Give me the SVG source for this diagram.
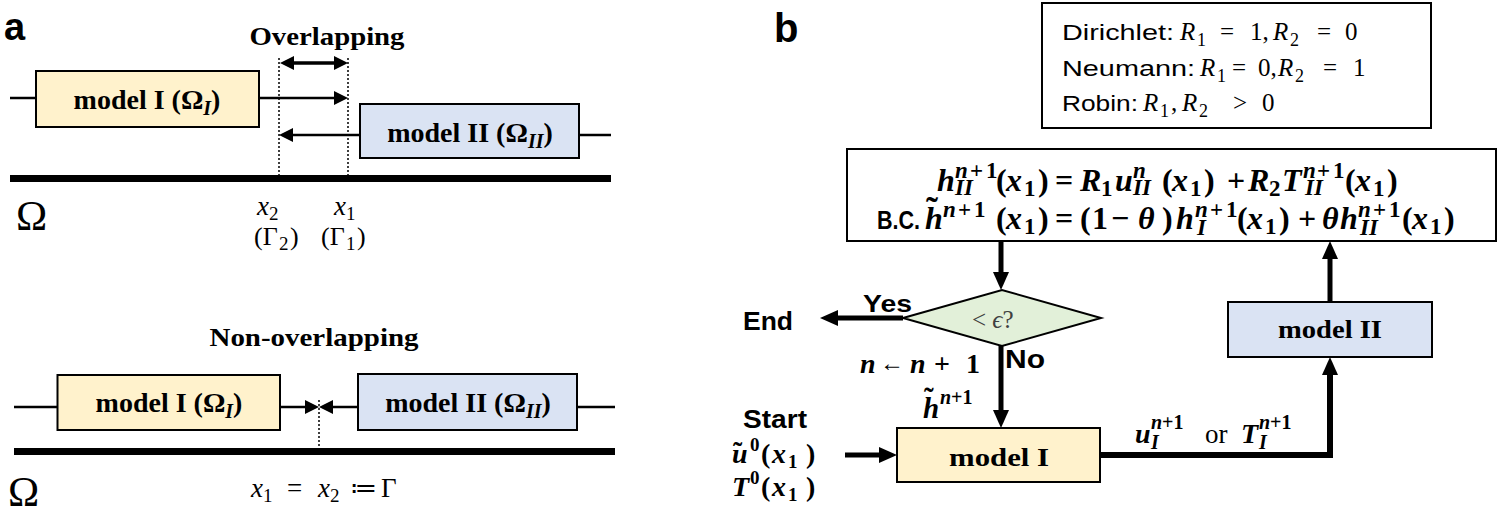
<svg xmlns="http://www.w3.org/2000/svg" width="1500" height="512" viewBox="0 0 1500 512">
<style>
.sb{font-family:"Liberation Sans",Arial,sans-serif;font-weight:bold;fill:#000}
.s{font-family:"Liberation Sans",Arial,sans-serif;fill:#000}
.rb{font-family:"Liberation Serif","Times New Roman",serif;font-weight:bold;fill:#000}
.r{font-family:"Liberation Serif","Times New Roman",serif;fill:#000}
.i{font-style:italic}
.box1{fill:#FFF2CC;stroke:#000;stroke-width:2}
.box2{fill:#DAE3F3;stroke:#000;stroke-width:2}
.dia{fill:#E2F0D9;stroke:#000;stroke-width:2}
.plain{fill:#fff;stroke:#000;stroke-width:2}
.thin{stroke:#000;stroke-width:2.5;fill:none}
.dot{stroke:#000;stroke-width:1.5;stroke-dasharray:2 2;fill:none}
.axis{stroke:#000;stroke-width:7}
.thick{stroke:#000;stroke-width:5;fill:none}
</style>
<defs>
<marker id="ah" markerUnits="userSpaceOnUse" markerWidth="14" markerHeight="14" refX="4" refY="7" orient="auto-start-reverse">
<path d="M0,0 L14,7 L0,14 z" fill="#000"/>
</marker>
<marker id="ahb" markerUnits="userSpaceOnUse" markerWidth="18" markerHeight="16" refX="6" refY="8" orient="auto">
<path d="M0,0 L18,8 L0,16 z" fill="#000"/>
</marker>
</defs>

<!-- Panel a -->
<text class="sb" x="4" y="40" font-size="38">a</text>
<text class="rb" x="327" y="45" font-size="26" text-anchor="middle" textLength="155" lengthAdjust="spacingAndGlyphs">Overlapping</text>

<g id="connectors-a">
<line class="thin" x1="10" y1="98" x2="36" y2="98"/>
<line class="thin" x1="259" y1="98" x2="338" y2="98" marker-end="url(#ah)"/>
<line class="thin" x1="360" y1="135" x2="289" y2="135" marker-end="url(#ah)"/>
<line class="thin" x1="579" y1="135" x2="611" y2="135"/>
<line stroke="#000" stroke-width="3.5" x1="290" y1="63" x2="338" y2="63" marker-start="url(#ah)" marker-end="url(#ah)"/>
<line class="dot" x1="279" y1="58" x2="279" y2="175"/>
<line class="dot" x1="348" y1="58" x2="348" y2="175"/>
<line class="axis" x1="10" y1="178.5" x2="611" y2="178.5"/>
<line class="thin" x1="14" y1="407" x2="57.5" y2="407"/>
<line class="thin" x1="280" y1="407" x2="309" y2="407" marker-end="url(#ah)"/>
<line class="thin" x1="358" y1="407" x2="329" y2="407" marker-end="url(#ah)"/>
<line class="thin" x1="577" y1="407" x2="615" y2="407"/>
<line class="dot" x1="319" y1="400" x2="319" y2="448"/>
<line class="axis" x1="14" y1="451.5" x2="615" y2="451.5"/>
</g>

<g id="a-model1-top">
<rect class="box1" x="36" y="71" width="223" height="56"/>
<text class="rb" x="147" y="109" font-size="28" text-anchor="middle">model I (Ω<tspan class="i" font-size="20" dy="6">I</tspan><tspan dy="-6">)</tspan></text>
</g>
<g id="a-model2-top">
<rect class="box2" x="360" y="104" width="219" height="54"/>
<text class="rb" x="470" y="142" font-size="28" text-anchor="middle">model II (Ω<tspan class="i" font-size="20" dy="6">II</tspan><tspan dy="-6">)</tspan></text>
</g>

<text class="r" x="16" y="230" font-size="42">Ω</text>
<text class="r" font-size="27"><tspan class="i" x="257" y="215">x</tspan><tspan x="269" y="220" font-size="19">2</tspan><tspan class="i" x="334" y="215">x</tspan><tspan x="346" y="220" font-size="19">1</tspan></text>
<text class="r" font-size="26"><tspan x="254" y="245">(Γ</tspan><tspan x="279" y="250" font-size="19">2</tspan><tspan x="290" y="245">)</tspan><tspan x="321" y="245">(Γ</tspan><tspan x="346" y="250" font-size="19">1</tspan><tspan x="357" y="245">)</tspan></text>

<text class="rb" x="314" y="346" font-size="25" text-anchor="middle" textLength="209" lengthAdjust="spacingAndGlyphs">Non-overlapping</text>
<g id="a-model1-bottom">
<rect class="box1" x="57.5" y="375" width="222.5" height="55"/>
<text class="rb" x="169" y="412" font-size="28" text-anchor="middle">model I (Ω<tspan class="i" font-size="20" dy="6">I</tspan><tspan dy="-6">)</tspan></text>
</g>
<g id="a-model2-bottom">
<rect class="box2" x="358" y="374" width="219" height="56"/>
<text class="rb" x="468" y="412" font-size="28" text-anchor="middle">model II (Ω<tspan class="i" font-size="20" dy="6">II</tspan><tspan dy="-6">)</tspan></text>
</g>
<text class="r" font-size="27"><tspan class="i" x="251" y="497">x</tspan><tspan x="263" y="502" font-size="19">1</tspan><tspan x="287" y="497">=</tspan><tspan class="i" x="318" y="497">x</tspan><tspan x="330" y="502" font-size="19">2</tspan><tspan x="350" y="497">≔</tspan><tspan x="381" y="497">Γ</tspan></text>
<text class="r" x="8" y="506" font-size="42">Ω</text>

<!-- Panel b -->
<text class="sb" x="774" y="42" font-size="40">b</text>

<g id="bc-types">
<rect class="plain" x="1042" y="3" width="389" height="125"/>
<text class="s" x="1062" y="40" font-size="22" textLength="112" lengthAdjust="spacingAndGlyphs">Dirichlet:</text>
<text class="r" font-size="25"><tspan class="i" x="1180" y="40">R</tspan><tspan x="1197" y="46" font-size="18">1</tspan><tspan x="1220" y="40">=</tspan><tspan x="1250" y="40">1,</tspan><tspan class="i" x="1273" y="40">R</tspan><tspan x="1290" y="46" font-size="18">2</tspan><tspan x="1317" y="40">=</tspan><tspan x="1345" y="40">0</tspan></text>
<text class="s" x="1062" y="76" font-size="22" textLength="133" lengthAdjust="spacingAndGlyphs">Neumann:</text>
<text class="r" font-size="25"><tspan class="i" x="1200" y="76">R</tspan><tspan x="1217" y="82" font-size="18">1</tspan><tspan x="1232" y="76">=</tspan><tspan x="1258" y="76">0,</tspan><tspan class="i" x="1278" y="76">R</tspan><tspan x="1295" y="82" font-size="18">2</tspan><tspan x="1323" y="76">=</tspan><tspan x="1353" y="76">1</tspan></text>
<text class="s" x="1062" y="111" font-size="22" textLength="76" lengthAdjust="spacingAndGlyphs">Robin:</text>
<text class="r" font-size="25"><tspan class="i" x="1143" y="111">R</tspan><tspan x="1160" y="117" font-size="18">1</tspan><tspan x="1171" y="111">,</tspan><tspan class="i" x="1182" y="111">R</tspan><tspan x="1199" y="117" font-size="18">2</tspan><tspan x="1233" y="111">&gt;</tspan><tspan x="1262" y="111">0</tspan></text>
</g>

<g id="bc-update">
<rect class="plain" x="847" y="149" width="649" height="92"/>
<text class="rb" font-size="32"><tspan class="i" x="937" y="191">h</tspan><tspan class="i" x="955" y="178" font-size="23">n</tspan><tspan x="970" y="178" font-size="23">+</tspan><tspan x="986" y="178" font-size="23">1</tspan><tspan class="i" x="955" y="195" font-size="23">II</tspan><tspan x="996" y="191">(</tspan><tspan class="i" x="1006" y="191">x</tspan><tspan x="1024" y="196" font-size="23">1</tspan><tspan x="1038" y="191">)</tspan><tspan x="1055" y="191">=</tspan><tspan class="i" x="1080" y="191">R</tspan><tspan x="1101" y="196" font-size="23">1</tspan><tspan class="i" x="1115" y="191">u</tspan><tspan class="i" x="1133" y="178" font-size="23">n</tspan><tspan class="i" x="1133" y="195" font-size="23">II</tspan><tspan x="1162" y="191">(</tspan><tspan class="i" x="1172" y="191">x</tspan><tspan x="1190" y="196" font-size="23">1</tspan><tspan x="1204" y="191">)</tspan><tspan x="1227" y="191">+</tspan><tspan class="i" x="1248" y="191">R</tspan><tspan x="1269" y="196" font-size="23">2</tspan><tspan class="i" x="1282" y="191">T</tspan><tspan class="i" x="1303" y="178" font-size="23">n</tspan><tspan x="1317" y="178" font-size="23">+</tspan><tspan x="1333" y="178" font-size="23">1</tspan><tspan class="i" x="1305" y="195" font-size="23">II</tspan><tspan x="1345" y="191">(</tspan><tspan class="i" x="1355" y="191">x</tspan><tspan x="1373" y="196" font-size="23">1</tspan><tspan x="1387" y="191">)</tspan></text>
<text class="sb" x="877" y="229" font-size="25" textLength="43" lengthAdjust="spacingAndGlyphs">B.C.</text>
<text class="rb" font-size="32"><tspan class="i" x="925" y="229">h</tspan><tspan x="926" y="222" font-size="36">˜</tspan><tspan class="i" x="943" y="217" font-size="23">n</tspan><tspan x="958" y="217" font-size="23">+</tspan><tspan x="974" y="217" font-size="23">1</tspan><tspan x="996" y="229">(</tspan><tspan class="i" x="1006" y="229">x</tspan><tspan x="1024" y="234" font-size="23">1</tspan><tspan x="1038" y="229">)</tspan><tspan x="1055" y="229">=</tspan><tspan x="1080" y="229">(</tspan><tspan x="1092" y="229">1</tspan><tspan x="1111" y="229">−</tspan><tspan class="i" x="1138" y="229">θ</tspan><tspan x="1162" y="229">)</tspan><tspan class="i" x="1176" y="229">h</tspan><tspan class="i" x="1195" y="217" font-size="23">n</tspan><tspan x="1210" y="217" font-size="23">+</tspan><tspan x="1226" y="217" font-size="23">1</tspan><tspan class="i" x="1197" y="235" font-size="23">I</tspan><tspan x="1237" y="229">(</tspan><tspan class="i" x="1247" y="229">x</tspan><tspan x="1265" y="234" font-size="23">1</tspan><tspan x="1279" y="229">)</tspan><tspan x="1298" y="229">+</tspan><tspan class="i" x="1322" y="229">θ</tspan><tspan class="i" x="1340" y="229">h</tspan><tspan class="i" x="1358" y="217" font-size="23">n</tspan><tspan x="1373" y="217" font-size="23">+</tspan><tspan x="1389" y="217" font-size="23">1</tspan><tspan class="i" x="1360" y="235" font-size="23">II</tspan><tspan x="1402" y="229">(</tspan><tspan class="i" x="1412" y="229">x</tspan><tspan x="1430" y="234" font-size="23">1</tspan><tspan x="1444" y="229">)</tspan></text>
</g>

<g id="connectors-b">
<line class="thick" x1="1001" y1="241" x2="1001" y2="278" marker-end="url(#ahb)"/>
<line class="thick" x1="903" y1="318" x2="832" y2="318" marker-end="url(#ahb)"/>
<line class="thick" x1="1001" y1="346" x2="1001" y2="416" marker-end="url(#ahb)"/>
<line class="thick" x1="845" y1="455" x2="885" y2="455" marker-end="url(#ahb)"/>
<path d="M1100,455 H1330 V369" stroke="#000" stroke-width="6" fill="none" marker-end="url(#ahb)"/>
<line class="thick" x1="1330" y1="302" x2="1330" y2="253" marker-end="url(#ahb)"/>
</g>

<g id="check">
<polygon class="dia" points="903,318 1002,290 1101,318 1002,346"/>
<text class="r" x="972" y="328" font-size="25" style="fill:#404040">&lt; <tspan class="i">ϵ</tspan>?</text>
</g>
<text class="sb" x="863" y="312" font-size="24" textLength="49" lengthAdjust="spacingAndGlyphs">Yes</text>
<text class="sb" x="743" y="330" font-size="25" textLength="50" lengthAdjust="spacingAndGlyphs">End</text>
<text class="sb" x="1005" y="368" font-size="25" textLength="40" lengthAdjust="spacingAndGlyphs">No</text>
<text class="rb" font-size="28"><tspan class="i" x="860" y="373">n</tspan><tspan x="880" y="371" font-size="24">←</tspan><tspan class="i" x="910" y="373">n</tspan><tspan x="934" y="373">+</tspan><tspan x="966" y="373">1</tspan></text>
<text class="rb" font-size="29"><tspan class="i" x="923" y="418">h</tspan><tspan x="924" y="408">˜</tspan><tspan class="i" x="940" y="404" font-size="20">n</tspan><tspan x="951" y="404" font-size="20">+1</tspan></text>

<text class="sb" x="743" y="428" font-size="25" textLength="64" lengthAdjust="spacingAndGlyphs">Start</text>
<text class="rb" font-size="28"><tspan class="i" x="732" y="463">u</tspan><tspan x="733" y="461">˜</tspan><tspan x="750" y="451" font-size="19">0</tspan><tspan x="761" y="463">(</tspan><tspan class="i" x="772" y="463">x</tspan><tspan x="788" y="468" font-size="19">1</tspan><tspan x="806" y="463">)</tspan></text>
<text class="rb" font-size="28"><tspan class="i" x="732" y="496">T</tspan><tspan x="750" y="484" font-size="19">0</tspan><tspan x="761" y="496">(</tspan><tspan class="i" x="772" y="496">x</tspan><tspan x="788" y="501" font-size="19">1</tspan><tspan x="806" y="496">)</tspan></text>

<g id="model1">
<rect class="box1" x="897" y="428" width="203" height="54"/>
<text class="rb" x="999" y="466" font-size="26" text-anchor="middle" textLength="100" lengthAdjust="spacingAndGlyphs">model I</text>
</g>
<g id="model2">
<rect class="box2" x="1228" y="302" width="204" height="55"/>
<text class="rb" x="1330" y="338" font-size="26" text-anchor="middle" textLength="104" lengthAdjust="spacingAndGlyphs">model II</text>
</g>
<text font-size="28"><tspan class="rb i" x="1135" y="443">u</tspan><tspan class="rb i" x="1151" y="429" font-size="20">n</tspan><tspan class="rb" x="1162" y="429" font-size="20">+1</tspan><tspan class="rb i" x="1151" y="449" font-size="20">I</tspan><tspan class="r" x="1205" y="443" font-size="27">or</tspan><tspan class="rb i" x="1241" y="443">T</tspan><tspan class="rb i" x="1259" y="429" font-size="20">n</tspan><tspan class="rb" x="1270" y="429" font-size="20">+1</tspan><tspan class="rb i" x="1259" y="449" font-size="20">I</tspan></text>
</svg>
